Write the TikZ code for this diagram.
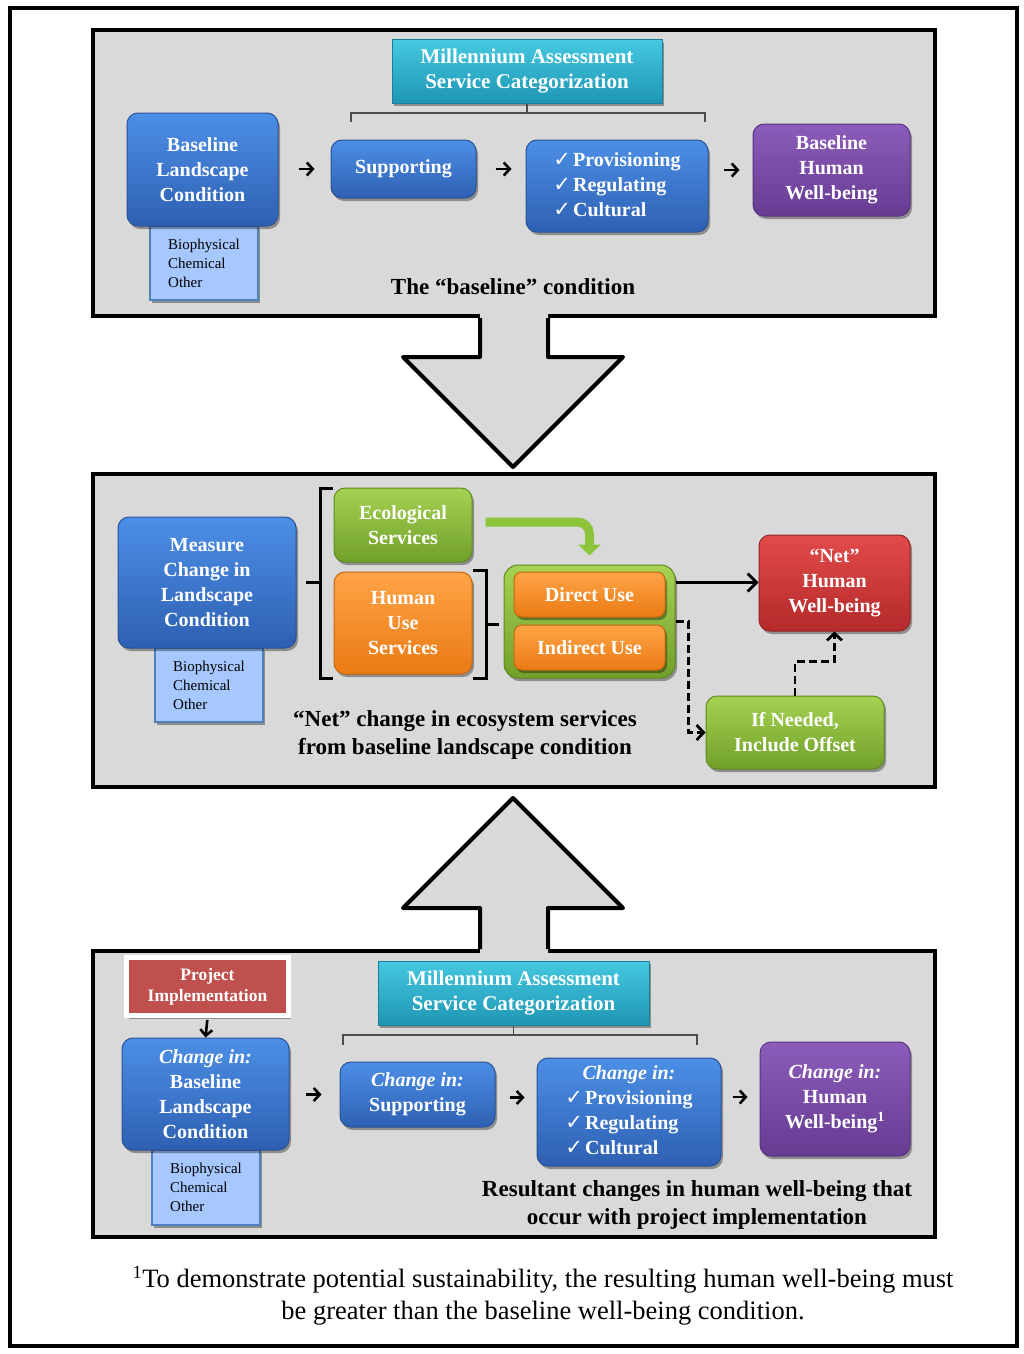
\documentclass[tikz,border=0pt]{standalone}
\usepackage{fontspec}
\setmainfont{Liberation Serif}
\newfontfamily\symf{DejaVu Sans}
\usetikzlibrary{arrows.meta,shadows,calc}
\definecolor{panel}{HTML}{D9D9D9}
\definecolor{blueA}{HTML}{4C8FE6}
\definecolor{blueB}{HTML}{2E60B2}
\definecolor{blueD}{HTML}{2A5196}
\definecolor{purA}{HTML}{8C5CBA}
\definecolor{purB}{HTML}{673B92}
\definecolor{purD}{HTML}{5A3380}
\definecolor{cyanA}{HTML}{45C8E0}
\definecolor{cyanB}{HTML}{1E96B4}
\definecolor{cyanD}{HTML}{1A7F99}
\definecolor{grnA}{HTML}{A4D252}
\definecolor{grnB}{HTML}{71A02A}
\definecolor{grnD}{HTML}{5F8A22}
\definecolor{orA}{HTML}{FFA446}
\definecolor{orB}{HTML}{EA7A14}
\definecolor{orD}{HTML}{C76610}
\definecolor{redA}{HTML}{E24A4A}
\definecolor{redB}{HTML}{B42A2A}
\definecolor{redD}{HTML}{962222}
\definecolor{subfill}{HTML}{A6C8FF}
\definecolor{subdraw}{HTML}{4F81BD}
\definecolor{pired}{HTML}{C0504D}
\definecolor{grnarrow}{HTML}{8CC43C}
\newcommand\ck{{\symf\mdseries\fontsize{21}{25}\selectfont\char"2713}\kern2pt}
\tikzset{
  panelsty/.style={fill=panel, draw=black, line width=4pt},
  bigarrow/.style={draw=black, line width=4pt, line join=round},
  shad/.style={drop shadow={shadow xshift=2pt, shadow yshift=-3pt, opacity=0.35, fill=black}},
  boxbase/.style={shad, rounded corners=11pt, line width=1pt, text=white,
    font=\bfseries\fontsize{20}{25}\selectfont, align=center, inner sep=2pt},
  bluebox/.style={boxbase, top color=blueA, bottom color=blueB, draw=blueD},
  purbox/.style={boxbase, top color=purA, bottom color=purB, draw=purD},
  grnbox/.style={boxbase, top color=grnA, bottom color=grnB, draw=grnD},
  orbox/.style={boxbase, top color=orA, bottom color=orB, draw=orD},
  redbox/.style={boxbase, top color=redA, bottom color=redB, draw=redD},
  mabox/.style={shad, top color=cyanA, bottom color=cyanB, draw=cyanD, line width=1pt,
    text=white, font=\bfseries\fontsize{21}{25}\selectfont, align=center},
  subbox/.style={fill=subfill, draw=subdraw, line width=1.2pt, align=left,
    font=\fontsize{15}{19}\selectfont, shad},
  caption/.style={font=\bfseries\fontsize{23}{28}\selectfont, align=center},
  arr/.style={line width=2.6pt, -{Straight Barb[length=6pt,width=13pt]}},
  arr2/.style={line width=2.8pt, -{Straight Barb[length=9pt,width=18pt]}},
  dasharr/.style={line width=2.8pt, dash pattern=on 8pt off 4pt, -{Straight Barb[length=7pt,width=15pt]}},
  brk/.style={draw=black!70, line width=1.1pt},
  bigbrk/.style={draw=black, line width=3pt},
}
\begin{document}
\begin{tikzpicture}[x=1pt,y=-1pt]
\useasboundingbox (0,0) rectangle (1024,1354);
\fill[white] (0,0) rectangle (1024,1354);
\draw[line width=4pt] (10,8) rectangle (1017,1346);

% panels
\draw[panelsty] (93,30) rectangle (935,316);
\draw[panelsty] (93,474) rectangle (935,787);
\draw[panelsty] (93,951) rectangle (935,1237);

% big arrows
\fill[panel] (480,312) -- (480,357) -- (403,357) -- (513,467) -- (623,357) -- (548,357) -- (548,312) -- cycle;
\draw[bigarrow] (480,318) -- (480,357) -- (403,357) -- (513,467) -- (623,357) -- (548,357) -- (548,318);
\fill[panel] (480,955) -- (480,908) -- (403,908) -- (513,798) -- (623,908) -- (548,908) -- (548,955) -- cycle;
\draw[bigarrow] (480,949) -- (480,908) -- (403,908) -- (513,798) -- (623,908) -- (548,908) -- (548,949);

% ---------- top panel ----------
\node[mabox, minimum width=270pt, minimum height=63pt] (ma1) at (527,71.5) {Millennium Assessment\\Service Categorization};
\draw[brk] (ma1.south) -- ++(0,10) coordinate (b1c);
\draw[brk] (351,122) -- (351,113) -- (705,113) -- (705,122);
\node[subbox, minimum width=108pt, minimum height=74pt] (sub1) at (204,263) {Biophysical\\Chemical\\Other};
\node[bluebox, minimum width=151pt, minimum height=113pt] (blc1) at (202.5,169.5) {Baseline\\Landscape\\Condition};
\node[bluebox, minimum width=145pt, minimum height=58pt] (sup1) at (403.5,169) {Supporting};
\node[bluebox, minimum width=182pt, minimum height=92pt] (prov1) at (617,186)
  {\begin{tabular}{@{}l@{}}\ck Provisioning\\ \ck Regulating\\ \ck Cultural\end{tabular}};
\node[purbox, minimum width=157pt, minimum height=92pt] (bhw1) at (831.5,170) {Baseline\\Human\\Well-being};
\node[caption] (cap1) at (513,287) {The “baseline” condition};
\draw[arr, shorten <=20pt, shorten >=16pt] (blc1.east |- sup1.west) -- (sup1.west);
\draw[arr, shorten <=19pt, shorten >=14pt] (sup1.east) -- (sup1.east -| prov1.west);
\draw[arr, shorten <=15pt, shorten >=13pt] (prov1.east |- bhw1.west) -- (bhw1.west);

% ---------- middle panel ----------
\node[subbox, minimum width=108pt, minimum height=74pt] (sub2) at (209,685) {Biophysical\\Chemical\\Other};
\node[bluebox, minimum width=178pt, minimum height=131pt] (meas) at (207,582.5) {Measure\\Change in\\Landscape\\Condition};
\node[grnbox, minimum width=138pt, minimum height=74pt] (eco) at (403,525) {Ecological\\Services};
\node[orbox, minimum width=138pt, minimum height=102pt] (hus) at (403,623) {Human\\Use\\Services};
\draw[bigbrk] (333,488) -- (320,488) -- (320,678) -- (333,678);
\draw[bigbrk] (320,582) -- (306,582);
\draw[bigbrk] (473,570) -- (486,570) -- (486,678) -- (473,678);
\draw[bigbrk] (486,624) -- (499,624);
\node[grnbox, minimum width=171pt, minimum height=113pt, rounded corners=14pt] (ctr) at (589.5,621.5) {};
\node[orbox, minimum width=151pt, minimum height=45pt, rounded corners=8pt] (du) at (589.5,594.5) {Direct Use};
\node[orbox, minimum width=151pt, minimum height=45pt, rounded corners=8pt] (iu) at (589.5,647.5) {Indirect Use};
\node[redbox, minimum width=151pt, minimum height=96pt] (nhw) at (834.5,583) {“Net”\\Human\\Well-being};
\node[grnbox, minimum width=178pt, minimum height=73pt] (off) at (795,732.5) {If Needed,\\Include Offset};
\node[caption] (cap2) at (465,735) {“Net” change in ecosystem services\\from baseline landscape condition};
\draw[line width=9pt, draw=grnarrow, rounded corners=12pt, -{Triangle[length=11pt,width=22pt]}]
  ([xshift=13pt,yshift=3pt]eco.east) -| ([yshift=9pt]ctr.north);
\draw[arr2] ([yshift=39pt]ctr.east) -- ([yshift=39pt]ctr.east -| nhw.west);
\draw[dasharr] (ctr.east) -- ++(13,0) |- (off.west);
\draw[dasharr] (off.north) -- ++(0,-34) -| (nhw.south);

% ---------- bottom panel ----------
\node[mabox, minimum width=271pt, minimum height=64pt] (ma3) at (513.5,993) {Millennium Assessment\\Service Categorization};
\draw[brk] (ma3.south) -- ++(0,10);
\draw[brk] (343,1045) -- (343,1035) -- (697,1035) -- (697,1045);
\node[shad, fill=pired, draw=white, line width=5pt, minimum width=162pt, minimum height=58pt,
  text=white, font=\bfseries\fontsize{17.5}{21}\selectfont, align=center] (pi) at (207.5,986.5) {Project\\Implementation};
\node[subbox, minimum width=108pt, minimum height=75pt] (sub3) at (206,1187.5) {Biophysical\\Chemical\\Other};
\node[bluebox, minimum width=167pt, minimum height=112pt] (blc3) at (205.5,1094) {\itshape Change in:\\Baseline\\Landscape\\Condition};
\node[bluebox, minimum width=155pt, minimum height=65pt] (sup3) at (417.5,1094.5) {\itshape Change in:\\Supporting};
\node[bluebox, minimum width=184pt, minimum height=108pt] (prov3) at (629,1112)
  {\begin{tabular}{@{}l@{}}\multicolumn{1}{@{}c@{}}{\itshape Change in:}\\ \ck Provisioning\\ \ck Regulating\\ \ck Cultural\end{tabular}};
\node[purbox, minimum width=150pt, minimum height=114pt] (hw3) at (835,1099) {\itshape Change in:\\Human\\Well-being\textsuperscript{1}};
\node[caption] (cap3) at (697,1205) {Resultant changes in human well-being that\\occur with project implementation};
\draw[line width=2.6pt, -{Straight Barb[length=6pt,width=12pt]}, shorten <=2pt] (pi.south) -- (blc3.north);
\draw[arr, shorten <=16pt, shorten >=18pt] (blc3.east |- sup3.west) -- (sup3.west);
\draw[arr, shorten <=14pt, shorten >=12pt] ([yshift=-3pt]sup3.east) -- ([yshift=-3pt]sup3.east -| prov3.west);
\draw[arr, shorten <=11pt, shorten >=12pt] ([yshift=2pt]prov3.east |- hw3.west) -- ([yshift=2pt]hw3.west);

% footnote
\node[font=\fontsize{26.5}{32}\selectfont, align=center] (foot) at (543,1296)
  {\textsuperscript{1}To demonstrate potential sustainability, the resulting human well-being must\\be greater than the baseline well-being condition.};
\end{tikzpicture}
\end{document}
